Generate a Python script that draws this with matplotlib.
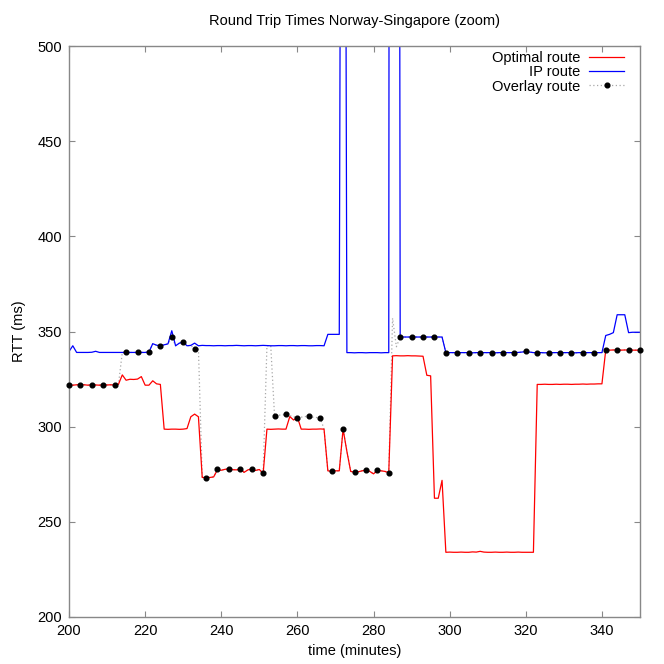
import matplotlib
matplotlib.use("Agg")
import matplotlib.pyplot as plt
from matplotlib.lines import Line2D

plt.rcParams['font.family'] = ['Liberation Sans', 'DejaVu Sans']
plt.rcParams['font.size'] = 10.5

# time axis, one sample per minute
minutes = list(range(200, 351))

# optimal route RTT (ms), 200..350
optimal = [
    322.0, 321.8, 322.0, 321.9, 322.0, 321.8, 322.0, 321.9, 321.8, 322.0,   # 200-209
    321.9, 322.0, 321.8, 322.3, 327.2, 324.4, 324.9, 324.8, 325.0, 326.3,   # 210-219
    321.8, 321.8, 324.1, 322.5, 322.2, 298.7, 298.6, 298.7, 298.7, 298.6,   # 220-229
    298.7, 299.0, 305.2, 306.6, 305.2, 273.3, 273.3, 273.3, 273.6, 277.4,   # 230-239
    277.1, 277.6, 277.8, 277.4, 277.3, 277.8, 276.0, 277.3, 277.8, 277.0,   # 240-249
    277.5, 275.4, 298.7, 298.6, 298.7, 298.8, 298.7, 298.7, 305.3, 303.5,   # 250-259
    305.0, 298.7, 298.7, 298.6, 298.7, 298.7, 298.8, 298.7, 276.8, 276.5,   # 260-269
    276.8, 276.8, 298.7, 287.0, 276.5, 276.0, 276.3, 276.8, 277.2, 276.5,   # 270-279
    275.2, 277.0, 276.8, 276.5, 275.8, 337.2, 337.3, 337.2, 337.2, 337.3,   # 280-289
    337.2, 337.2, 337.1, 337.0, 327.0, 326.7, 262.4, 262.4, 271.8, 234.0,   # 290-299
    234.1, 234.0, 234.0, 234.1, 234.0, 234.0, 234.2, 234.1, 234.5, 234.1,   # 300-309
    234.0, 234.0, 234.1, 234.0, 234.0, 234.1, 234.0, 234.0, 234.1, 234.0,   # 310-319
    234.0, 234.0, 234.0, 322.2, 322.2, 322.3, 322.2, 322.2, 322.3, 322.2,   # 320-329
    322.3, 322.3, 322.2, 322.3, 322.3, 322.4, 322.3, 322.4, 322.4, 322.5,   # 330-339
    322.5, 340.2, 340.2, 340.3, 340.2, 340.2, 340.3, 340.2, 340.2, 340.2,   # 340-349
    340.2,                                                                   # 350
]

# plain IP route RTT (ms); samples above 500 are off the zoomed scale
ip_route = [
    339.5, 342.5, 339.0, 339.0, 339.0, 339.0, 339.1, 339.6, 339.0, 339.0,   # 200-209
    339.0, 339.0, 339.0, 339.0, 339.0, 339.0, 339.0, 339.0, 339.0, 339.0,   # 210-219
    339.0, 339.2, 343.6, 342.8, 342.5, 343.0, 343.5, 350.4, 342.5, 343.9,   # 220-229
    344.4, 342.5, 342.7, 343.9, 342.5, 342.7, 342.6, 342.6, 342.5, 342.6,   # 230-239
    342.6, 342.5, 342.6, 342.6, 342.7, 342.6, 342.5, 342.6, 342.6, 342.5,   # 240-249
    342.6, 342.7, 342.6, 342.5, 342.5, 342.6, 342.6, 342.5, 342.6, 342.6,   # 250-259
    342.5, 342.6, 342.6, 342.5, 342.5, 342.6, 342.6, 342.5, 348.5, 348.5,   # 260-269
    348.5, 348.5, 1100.0, 338.9, 338.9, 338.8, 338.9, 338.9, 338.8, 338.9,  # 270-279
    338.9, 338.9, 338.8, 338.9, 338.9, 3000.0, 1900.0, 347.1, 347.1, 347.1,  # 280-289
    347.1, 347.1, 347.1, 347.1, 347.1, 347.1, 347.1, 347.1, 347.1, 338.9,   # 290-299
    338.9, 338.9, 338.8, 338.9, 338.9, 338.9, 338.8, 338.9, 338.9, 338.9,   # 300-309
    338.9, 338.9, 338.8, 338.9, 338.9, 338.9, 338.9, 338.9, 339.0, 339.2,   # 310-319
    339.5, 339.2, 338.9, 338.9, 338.9, 338.8, 338.9, 338.9, 338.9, 338.9,   # 320-329
    338.9, 338.9, 338.9, 338.8, 338.9, 338.9, 338.9, 338.9, 338.9, 338.9,   # 330-339
    338.9, 347.9, 348.5, 349.4, 358.8, 358.8, 358.8, 349.4, 349.6, 349.6,   # 340-349
    349.6,                                                                   # 350
]

# overlay route RTT (ms)
overlay = [
    322.0, 321.8, 322.0, 321.9, 322.0, 321.8, 322.0, 321.9, 321.8, 322.0,   # 200-209
    321.9, 322.0, 321.8, 322.3, 339.0, 339.0, 339.0, 339.0, 339.0, 339.0,   # 210-219
    339.0, 339.4, 343.6, 342.8, 342.4, 343.0, 343.5, 347.0, 342.5, 343.9,   # 220-229
    344.3, 342.5, 342.7, 340.7, 340.7, 273.3, 273.2, 273.3, 273.6, 277.5,   # 230-239
    277.1, 277.6, 277.8, 277.4, 277.3, 277.8, 276.0, 277.3, 277.8, 277.0,   # 240-249
    277.5, 275.7, 342.5, 342.5, 305.5, 306.0, 306.2, 306.4, 305.8, 305.2,   # 250-259
    304.8, 305.0, 305.3, 305.5, 305.0, 304.8, 304.6, 298.7, 276.8, 276.5,   # 260-269
    276.8, 276.8, 298.7, 287.0, 276.5, 276.0, 276.3, 276.8, 277.2, 276.5,   # 270-279
    275.2, 277.0, 276.8, 276.5, 275.7, 357.0, 342.0, 347.1, 347.1, 347.1,   # 280-289
    347.1, 347.1, 347.1, 347.1, 347.1, 347.1, 347.1, 347.1, 347.1, 338.9,   # 290-299
    338.9, 338.9, 338.8, 338.9, 338.9, 338.9, 338.8, 338.9, 338.9, 338.9,   # 300-309
    338.9, 338.9, 338.8, 338.9, 338.9, 338.9, 338.9, 338.9, 339.0, 339.2,   # 310-319
    339.5, 339.2, 338.9, 338.9, 338.9, 338.8, 338.9, 338.9, 338.9, 338.9,   # 320-329
    338.9, 338.9, 338.9, 338.8, 338.9, 338.9, 338.9, 338.9, 338.9, 338.9,   # 330-339
    338.9, 340.2, 340.2, 340.3, 340.2, 340.2, 340.3, 340.2, 340.2, 340.2,   # 340-349
    340.2,                                                                   # 350
]

x_ticks = [200, 220, 240, 260, 280, 300, 320, 340]
y_ticks = [200, 250, 300, 350, 400, 450, 500]

fig = plt.figure(figsize=(6.64, 6.64), dpi=100)
ax = fig.add_axes([69 / 664, 47 / 664, 571 / 664, 571 / 664])

# dotted overlay line sits behind the solid routes, its dots on top
ax.plot(minutes, overlay, color="#a8a8a8", lw=0.9, ls=(0, (1, 2)), zorder=1)
ax.plot(minutes, optimal, color="#ff0000", lw=0.9, zorder=2)
ax.plot(minutes, ip_route, color="#0000ff", lw=0.9, zorder=2)
ax.plot(minutes[::3], overlay[::3], ls="none", marker="o", ms=3.4,
        color="black", zorder=3, clip_on=False)

ax.set_xlim(200, 350)
ax.set_ylim(200, 500)
ax.set_xticks(x_ticks)
ax.set_yticks(y_ticks)
ax.tick_params(direction="in", length=4, width=0.8, color="#888888",
               top=True, right=True, pad=5, labelsize=10.5)
for s in ax.spines.values():
    s.set_color("#888888")
    s.set_linewidth(1.0)

ax.set_title("Round Trip Times Norway-Singapore (zoom)", fontsize=10.5, pad=15)
ax.set_xlabel("time (minutes)", fontsize=10.5, labelpad=4)
ax.set_ylabel("RTT (ms)", fontsize=10.5, labelpad=8)

handles = [
    Line2D([], [], color="#ff0000", lw=0.9),
    Line2D([], [], color="#0000ff", lw=0.9),
    Line2D([], [], color="#a8a8a8", lw=0.9, ls=(0, (1, 2)),
           marker="o", ms=3.4, mfc="black", mec="black"),
]
ax.legend(handles, ["Optimal route", "IP route", "Overlay route"],
          loc="upper right", bbox_to_anchor=(1 - 16 / 571, 1 - 5 / 571),
          frameon=False, markerfirst=False, borderaxespad=0, borderpad=0,
          handlelength=2.4, handletextpad=0.6, labelspacing=0.02,
          fontsize=10.5)

fig.savefig("out.png", dpi=100)
